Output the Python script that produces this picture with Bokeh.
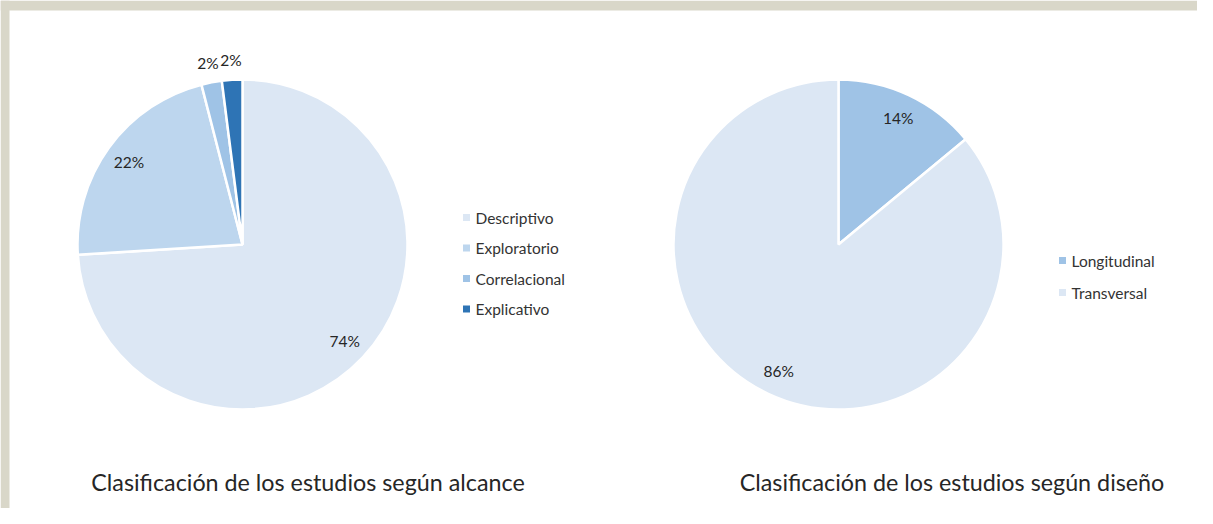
import numpy as np
from bokeh.plotting import figure
from bokeh.models import Range1d, ColumnDataSource
from bokeh.core.properties import value
from bokeh.embed import file_html
from bokeh.resources import INLINE

# ---- data ----
alcance_cats = ["Descriptivo", "Exploratorio", "Correlacional", "Explicativo"]
alcance_vals = [74, 22, 2, 2]
alcance_colors = ["#dce7f4", "#bdd6ee", "#9fc3e6", "#2e74b5"]
alcance_title = "Clasificación de los estudios según alcance"

diseno_cats = ["Longitudinal", "Transversal"]
diseno_vals = [14, 86]
diseno_colors = ["#9fc3e6", "#dce7f4"]
diseno_title = "Clasificación de los estudios según diseño"

W, H = 1197, 508
FONT = "Lato"

p = figure(width=W, height=H, output_backend="svg", toolbar_location=None,
           x_range=Range1d(0, W), y_range=Range1d(H, 0), min_border=0)
p.axis.visible = False
p.grid.visible = False
p.outline_line_color = None
p.background_fill_color = "white"
p.border_fill_color = "white"

# frame shadow (top/left)
p.quad(left=[0], right=[W], top=[0], bottom=[10], fill_color="#d9d7c9", line_color=None)
p.quad(left=[0], right=[9], top=[0], bottom=[H], fill_color="#d9d7c9", line_color=None)


def pie(cx, cy, r, cats, vals, colors, title, title_x, legend_x, legend_y, legend_step):
    vals = np.asarray(vals, dtype=float)
    frac = vals / vals.sum()
    cum = np.concatenate([[0], np.cumsum(frac)])
    # wedge angles are screen angles: clockwise from 12 o'clock
    start = np.pi / 2 - cum[:-1] * 2 * np.pi
    end = np.pi / 2 - cum[1:] * 2 * np.pi
    src = ColumnDataSource(dict(start=start, end=end, color=colors))
    p.wedge(x=cx, y=cy, radius=r, start_angle="start", end_angle="end",
            direction="clock", fill_color="color", line_color="white",
            line_width=2.5, source=src)
    # label positions in data space (y axis points down)
    mid_cw = (cum[:-1] + cum[1:]) / 2 * 2 * np.pi
    rr = np.where(frac < 0.05, r * 1.12, r * 0.85)
    lx = cx + rr * np.sin(mid_cw)
    ly = cy - rr * np.cos(mid_cw)
    labels = [f"{int(round(v))}%" for v in vals]
    p.text(x=lx, y=ly, text=labels, text_align="center", text_baseline="middle",
           text_font=value(FONT), text_font_size="15.5px", text_color="#262626")
    # legend
    ys = [legend_y + i * legend_step for i in range(len(cats))]
    p.rect(x=[legend_x] * len(cats), y=ys, width=7, height=7, fill_color=colors,
           line_color=None)
    p.text(x=[legend_x + 9] * len(cats), y=ys, text=cats, text_align="left",
           text_baseline="middle", text_font=value(FONT), text_font_size="15.5px",
           text_color="#333333")
    p.text(x=[title_x], y=[481], text=[title], text_align="center",
           text_baseline="middle", text_font=value(FONT), text_font_size="23.3px",
           text_color="#262626")


pie(242, 244, 165, alcance_cats, alcance_vals, alcance_colors, alcance_title, 307.5,
    466, 217, 30.5)
pie(838, 244, 165, diseno_cats, diseno_vals, diseno_colors, diseno_title, 951.5,
    1062, 260, 32)

open("out.html", "w").write(file_html(p, INLINE))
